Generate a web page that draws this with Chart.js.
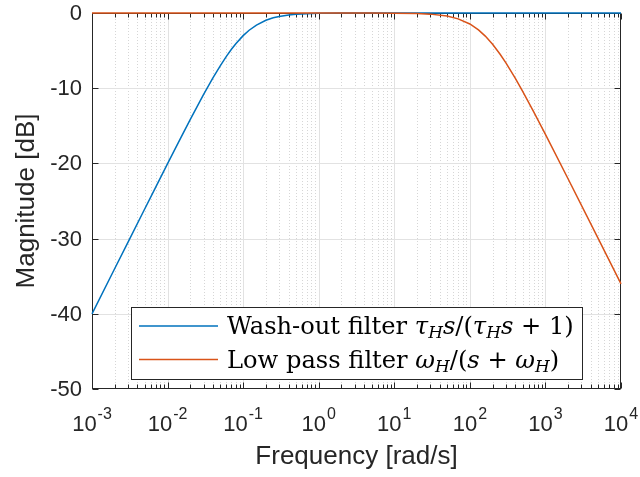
<!DOCTYPE html>
<html><head><meta charset="utf-8">
<script src="https://cdn.jsdelivr.net/npm/chart.js@4.4.0/dist/chart.umd.min.js"></script>
<style>html,body{margin:0;padding:0;background:#fff}#wrap{width:640px;height:477px;position:relative}</style>
</head><body><div id="wrap"><canvas id="c" width="640" height="477"></canvas></div>
<script>
// ---- data ----
const freq = [0.001, 0.002, 0.003, 0.005, 0.007, 0.01, 0.015, 0.02, 0.03, 0.04, 0.05, 0.06, 0.07, 0.08, 0.1, 0.12, 0.15, 0.2, 0.25, 0.3, 0.4, 0.5, 0.7, 1, 2, 5, 10, 20, 30, 50, 70, 100, 130, 160, 200, 250, 300, 400, 500, 700, 1000, 2000, 5000, 10000];
const washout = [-40.00, -33.98, -30.46, -26.03, -23.12, -20.04, -16.57, -14.15, -10.83, -8.60, -6.99, -5.77, -4.83, -4.09, -3.01, -2.29, -1.60, -0.97, -0.64, -0.46, -0.26, -0.17, -0.09, -0.04, -0.01, 0, 0, 0, 0, 0, 0, 0, 0, 0, 0, 0, 0, 0, 0, 0, 0, 0, 0, 0];
const lowpass = [0, 0, 0, 0, 0, 0, 0, 0, 0, 0, 0, 0, 0, 0, 0, 0, 0, 0, 0, 0, 0, 0, 0, 0, 0, 0, -0.02, -0.07, -0.15, -0.41, -0.78, -1.46, -2.25, -3.07, -4.15, -5.45, -6.63, -8.70, -10.42, -13.14, -16.13, -22.07, -30.01, -36.03];
const xTickExponents = [-3, -2, -1, 0, 1, 2, 3, 4];
const xMinorSignificands = [2, 3, 4, 5, 6, 7, 8, 9];
const yTickValues = [-50, -40, -30, -20, -10, 0];
const xTitle = 'Frequency [rad/s]';
const yTitle = 'Magnitude [dB]';
// legend entries as text runs: r = roman, i = italic, s = italic subscript
const legendWashout = [['Wash-out filter ', 'r'], ['τ', 'i'], ['H', 's'], ['s', 'i'], ['/(', 'r'], ['τ', 'i'], ['H', 's'], ['s', 'i'], [' + 1)', 'r']];
const legendLowpass = [['Low pass filter ', 'r'], ['ω', 'i'], ['H', 's'], ['/(', 'r'], ['s', 'i'], [' + ', 'r'], ['ω', 'i'], ['H', 's'], [')', 'r']];

const BLUE = '#0072BD', RED = '#D95319', AX = '#262626';
const SANS = '"Liberation Sans", Arial, Helvetica, sans-serif';
const SERIF = '"DejaVu Serif", "Liberation Serif", serif';

function runFont(style, size) {
  if (style === 'r') return size + 'px ' + SERIF;
  if (style === 'i') return 'italic ' + size + 'px ' + SERIF;
  return 'italic ' + (size * 0.7).toFixed(1) + 'px ' + SERIF;
}
function runsWidth(ctx, runs, size) {
  let w = 0;
  for (const [t, s] of runs) { ctx.font = runFont(s, size); w += ctx.measureText(t).width; }
  return w;
}
function drawRuns(ctx, runs, x, y, size) {
  ctx.textAlign = 'left'; ctx.textBaseline = 'alphabetic';
  for (const [t, s] of runs) {
    ctx.font = runFont(s, size);
    ctx.fillText(t, x, s === 's' ? y + 4 : y);
    x += ctx.measureText(t).width;
  }
}

const matlabAxes = {
  id: 'matlabAxes',
  beforeDatasetsDraw(chart) {
    const { ctx, chartArea: a, scales: { x, y } } = chart;
    ctx.save();
    ctx.lineWidth = 1;
    // minor vertical grid (dotted)
    ctx.strokeStyle = 'rgba(0,0,0,0.16)';
    ctx.setLineDash([1, 2]);
    for (const e of xTickExponents.slice(0, -1)) {
      for (const m of xMinorSignificands) {
        const px = Math.round(x.getPixelForValue(m * Math.pow(10, e))) + 0.5;
        ctx.beginPath(); ctx.moveTo(px, a.top); ctx.lineTo(px, a.bottom); ctx.stroke();
      }
    }
    ctx.setLineDash([]);
    // major grid
    ctx.strokeStyle = '#e2e2e2';
    for (const e of xTickExponents.slice(1, -1)) {
      const px = Math.round(x.getPixelForValue(Math.pow(10, e))) + 0.5;
      ctx.beginPath(); ctx.moveTo(px, a.top); ctx.lineTo(px, a.bottom); ctx.stroke();
    }
    for (const v of yTickValues.slice(1, -1)) {
      const py = Math.round(y.getPixelForValue(v)) + 0.5;
      ctx.beginPath(); ctx.moveTo(a.left, py); ctx.lineTo(a.right, py); ctx.stroke();
    }
    // box
    ctx.strokeStyle = AX;
    const L = Math.round(a.left) + 0.5, R = Math.round(a.right) - 0.5, T = Math.round(a.top) + 0.5, B = Math.round(a.bottom) - 0.5;
    ctx.strokeRect(L, T, R - L, B - T);
    // ticks
    ctx.beginPath();
    for (const e of xTickExponents) {
      const px = Math.round(x.getPixelForValue(Math.pow(10, e))) + 0.5;
      ctx.moveTo(px, B); ctx.lineTo(px, B - 6);
      ctx.moveTo(px, T); ctx.lineTo(px, T + 6);
      if (e === xTickExponents[xTickExponents.length - 1]) continue;
      for (const m of xMinorSignificands) {
        const qx = Math.round(x.getPixelForValue(m * Math.pow(10, e))) + 0.5;
        ctx.moveTo(qx, B); ctx.lineTo(qx, B - 4);
        ctx.moveTo(qx, T); ctx.lineTo(qx, T + 4);
      }
    }
    for (const v of yTickValues) {
      const py = Math.round(y.getPixelForValue(v)) + 0.5;
      ctx.moveTo(L, py); ctx.lineTo(L + 6, py);
      ctx.moveTo(R, py); ctx.lineTo(R - 6, py);
    }
    ctx.stroke();
    ctx.restore();
  },
  afterDatasetsDraw(chart) {
    const { ctx } = chart;
    ctx.save();
    // fit legend text to the reference width of the first entry
    const size = 22 * 347 / runsWidth(ctx, legendWashout, 22);
    // legend box
    ctx.fillStyle = '#fff';
    ctx.fillRect(131, 307, 451, 72);
    ctx.strokeStyle = AX; ctx.lineWidth = 1;
    ctx.strokeRect(131.5, 307.5, 451, 72);
    ctx.lineWidth = 1.5;
    ctx.strokeStyle = BLUE;
    ctx.beginPath(); ctx.moveTo(139, 326); ctx.lineTo(218, 326); ctx.stroke();
    ctx.strokeStyle = RED;
    ctx.beginPath(); ctx.moveTo(139, 359.5); ctx.lineTo(218, 359.5); ctx.stroke();
    ctx.fillStyle = '#000';
    drawRuns(ctx, legendWashout, 227, 334, size);
    drawRuns(ctx, legendLowpass, 227, 368, size);
    ctx.restore();
  },
  afterDraw(chart) {
    const { ctx, chartArea: a, scales: { x, y } } = chart;
    ctx.save();
    ctx.fillStyle = AX;
    // x tick labels 10^e
    for (const e of xTickExponents) {
      const px = x.getPixelForValue(Math.pow(10, e));
      const base = '10', ex = String(e);
      ctx.font = '22px ' + SANS;
      const wb = ctx.measureText(base).width;
      ctx.font = '16px ' + SANS;
      const we = ctx.measureText(ex).width;
      const x0 = px - (wb + we + 1) / 2;
      ctx.textAlign = 'left'; ctx.textBaseline = 'alphabetic';
      ctx.font = '22px ' + SANS;
      ctx.fillText(base, x0, 431);
      ctx.font = '16px ' + SANS;
      ctx.fillText(ex, x0 + wb + 1, 419);
    }
    // y tick labels
    ctx.font = '22px ' + SANS;
    ctx.textAlign = 'right'; ctx.textBaseline = 'middle';
    for (const v of yTickValues) {
      ctx.fillText(String(v), a.left - 10, y.getPixelForValue(v) + 1);
    }
    // axis titles
    ctx.font = '26px ' + SANS;
    ctx.textAlign = 'center'; ctx.textBaseline = 'alphabetic';
    ctx.fillText(xTitle, (a.left + a.right) / 2, 464);
    ctx.translate(34, (a.top + a.bottom) / 2);
    ctx.rotate(-Math.PI / 2);
    ctx.fillText(yTitle, 0, 0);
    ctx.restore();
  }
};

const toPoints = (vals) => freq.map((f, i) => ({ x: f, y: vals[i] }));

new Chart(document.getElementById('c'), {
  type: 'line',
  data: {
    datasets: [
      { label: 'Wash-out filter', data: toPoints(washout), borderColor: BLUE, borderWidth: 1.5, pointRadius: 0, tension: 0, fill: false, clip: 3, order: 1 },
      { label: 'Low pass filter', data: toPoints(lowpass), borderColor: RED, borderWidth: 1.5, pointRadius: 0, tension: 0, fill: false, clip: 3, order: 0 }
    ]
  },
  options: {
    responsive: false,
    animation: false,
    layout: { padding: { left: 92, top: 13, right: 19, bottom: 88 } },
    plugins: { legend: { display: false }, tooltip: { enabled: false } },
    scales: {
      x: { type: 'logarithmic', min: 0.001, max: 10000, display: false },
      y: { type: 'linear', min: -50, max: 0, display: false }
    }
  },
  plugins: [matlabAxes]
});
</script>
</body></html>
